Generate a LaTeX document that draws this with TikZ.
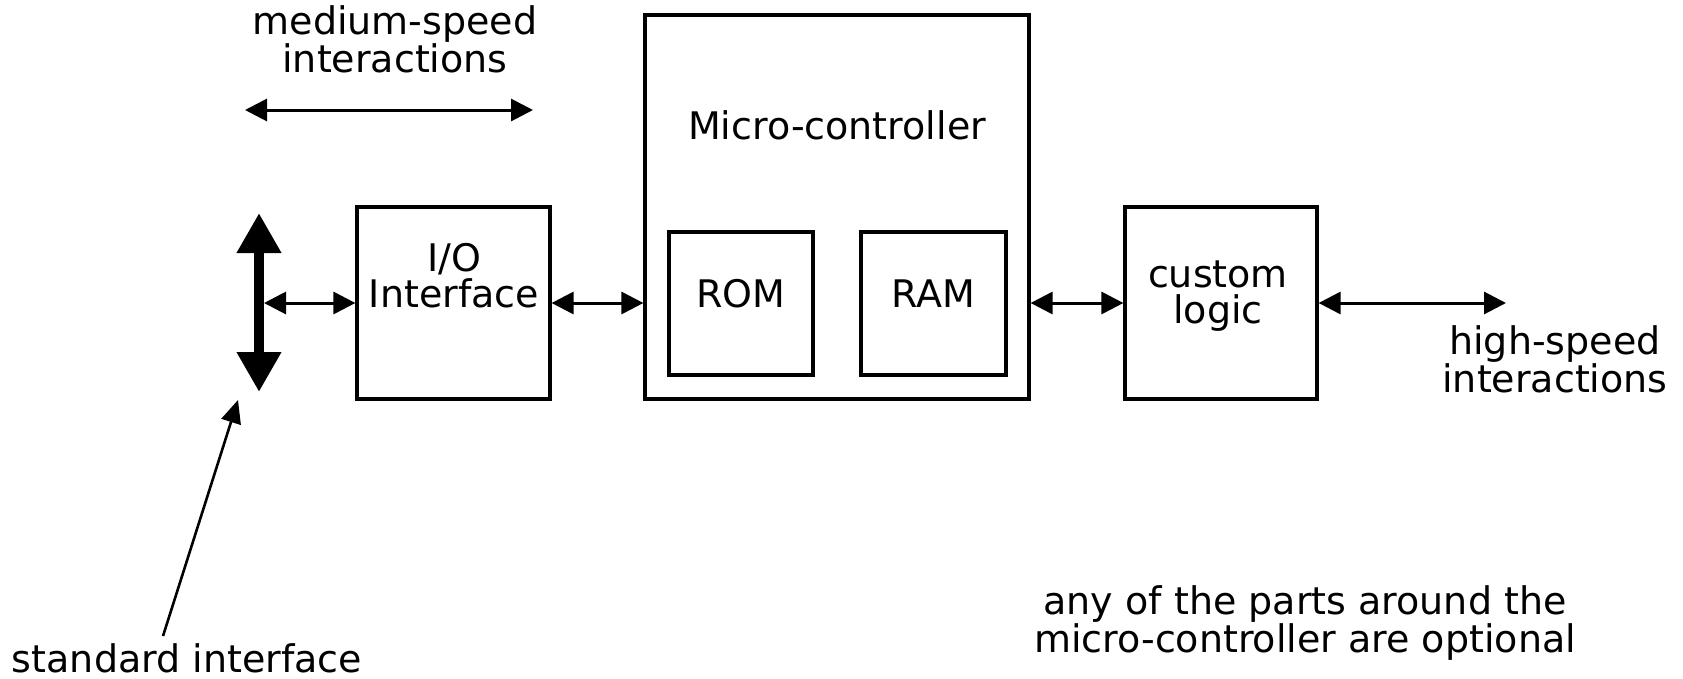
\documentclass[tikz,border=0pt]{standalone}
\usepackage{fontspec}
\setmainfont{DejaVu Sans}
\usetikzlibrary{arrows.meta}
\tikzstyle{block} = [rectangle, draw, line width=3.2pt, inner sep=0pt]
\tikzstyle{note} = [font=\fontsize{38}{35.5}\selectfont, align=center, inner sep=0pt, anchor=base]
\tikzstyle{arrow} = [line width=3pt, <->, >={Triangle[length=22pt, width=22pt]}]
\tikzstyle{bus} = [line width=10pt, <->, >={Triangle[length=40pt, width=42pt]}]
\tikzstyle{pointer} = [line width=2.6pt, ->, >={Triangle[length=23pt, width=20pt]}]
\begin{document}
\begin{tikzpicture}[x=1pt, y=-1pt]
        \useasboundingbox (0,0) rectangle (1683,678);
        \node [block, minimum width=384pt, minimum height=384pt] at (837,207) (mc) {};
        \node [block, minimum width=193pt, minimum height=192pt] at (453.5,303) (io) {};
        \node [block, minimum width=192pt, minimum height=192pt] at (1221,303) (custom) {};
        \node [block, minimum width=144pt, minimum height=143pt] at (741,303.5) (rom) {};
        \node [block, minimum width=145pt, minimum height=143pt] at (933.5,303.5) (ram) {};
        \node [note] at (837,139.5) (mctitle) {Micro-controller};
        \node [note] at (454,307) (iotext) {I/O\\Interface};
        \node [note] at (741,307) (romtext) {ROM};
        \node [note] at (933.5,307) (ramtext) {RAM};
        \node [note] at (1218,323) (customtext) {custom\\logic};
        \node [note] at (395,72) (medium) {medium-speed\\interactions};
        \node [note] at (1555,392) (high) {high-speed\\interactions};
        \node [note] at (187,672) (standard) {standard interface};
        \node [note] at (1305,652) (optional) {any of the parts around the\\micro-controller are optional};
        \coordinate (bustop) at (259,213);
        \coordinate (busbot) at (259,392);
        \coordinate (busport) at (264,303);
        \coordinate (highport) at (1506,303);
        \coordinate (medleft) at (245,110);
        \coordinate (medright) at (533,110);
        \coordinate (stdfoot) at (163,636);
        \coordinate (stdtip) at (238,400);
        \draw [bus] (bustop) -- (busbot);
        \draw [arrow] (busport) -- (io.west);
        \draw [arrow] (io.east) -- (io.east -| mc.west);
        \draw [arrow] (custom.west -| mc.east) -- (custom.west);
        \draw [arrow] (custom.east) -- (highport);
        \draw [arrow] (medleft) -- (medright);
        \draw [pointer] (stdfoot) -- (stdtip);
\end{tikzpicture}
\end{document}
